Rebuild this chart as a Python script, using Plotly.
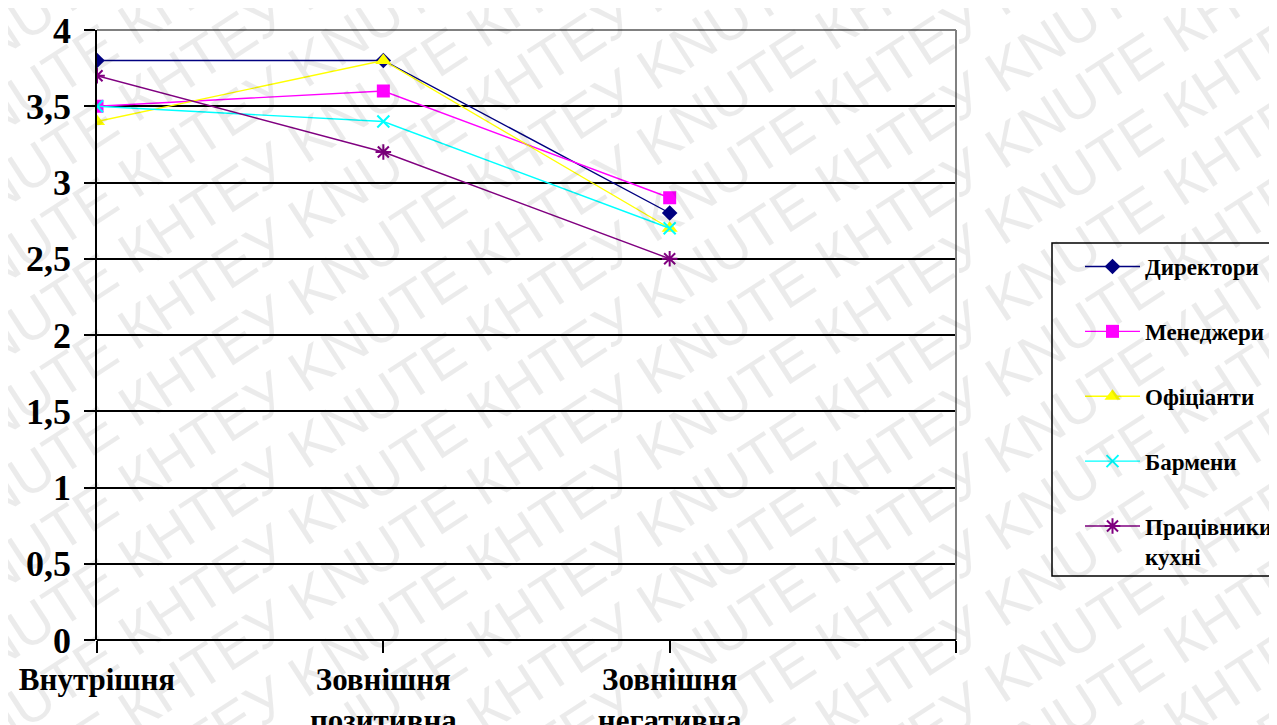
import math
import plotly.graph_objects as go

categories = ["Внутрішня", "Зовнішня<br>позитивна", "Зовнішня<br>негативна"]
series_names = ["Директори", "Менеджери", "Офіціанти", "Бармени", "Працівники<br>кухні"]
directors = [3.8, 3.8, 2.8]
managers = [3.5, 3.6, 2.9]
waiters = [3.4, 3.8, 2.7]
bartenders = [3.5, 3.4, 2.7]
kitchen = [3.7, 3.2, 2.5]
y_ticks = [0, 0.5, 1, 1.5, 2, 2.5, 3, 3.5, 4]
y_tick_labels = ["0", "0,5", "1", "1,5", "2", "2,5", "3", "3,5", "4"]
watermark_text = "КНТЕУ KNUTE"

values = [directors, managers, waiters, bartenders, kitchen]
colors = ["#000080", "#FF00FF", "#FFFF00", "#00FFFF", "#800080"]
symbols = ["diamond", "square", "triangle-up", "x-thin", "asterisk"]
sizes = [12, 13, 14, 12, 13]

# page is shown with an 8px body margin: convert page pixels -> figure pixels
OFF = 8
W, H = 1277, 725
L = 97 - OFF
T = 30 - OFF
R = W - (956 - OFF)
B = H - (640 - OFF)
pw, ph = W - L - R, H - T - B


def px_x(page_x):
    return (page_x - OFF - L) / pw


def px_y(page_y):
    return (H - B - (page_y - OFF)) / ph


x_pos = list(range(len(categories)))

fig = go.Figure()
for i, (name, vals) in enumerate(zip(series_names, values)):
    sym = symbols[i]
    line_marker = dict(width=2, color=colors[i]) if sym in ("x-thin", "asterisk") else dict(width=0)
    fig.add_trace(go.Scatter(
        x=x_pos, y=vals, name=name, mode="lines+markers",
        line=dict(color=colors[i], width=1.4),
        marker=dict(symbol=sym, size=sizes[i], color=colors[i], line=line_marker),
        legendgroup=str(i),
    ))

serif = "Liberation Serif"

# watermark: diagonal tiled text
annotations = []
long_text = " ".join([watermark_text] * 9)
ang = 33
step = 64 / math.cos(math.radians(ang))
for k in range(-10, 23):
    cy = k * step
    annotations.append(dict(
        xref="paper", yref="paper", x=px_x(640), y=px_y(cy),
        text=long_text, showarrow=False, textangle=-ang,
        font=dict(family="Liberation Sans", size=58, color="rgba(0,0,0,0.08)"),
        xanchor="center", yanchor="middle",
    ))

fig.update_layout(
    width=W, height=H,
    margin=dict(l=L, r=R, t=T, b=B, autoexpand=False),
    paper_bgcolor="white", plot_bgcolor="white",
    showlegend=True,
    legend=dict(
        x=px_x(1080), y=px_y(245), xanchor="left", yanchor="top",
        borderwidth=0, bgcolor="rgba(0,0,0,0)",
        font=dict(family=serif, size=23, color="black", weight="bold"),
        itemwidth=55, tracegroupgap=32, valign="top",
    ),
    xaxis=dict(
        range=[0, 3], tickmode="array", tickvals=[0, 1, 2, 3],
        ticktext=categories + [""],
        ticks="outside", ticklen=12, tickcolor="black", tickwidth=1.5,
        showgrid=False, zeroline=False, showline=False, automargin=False,
        tickfont=dict(family=serif, size=31, color="black", weight="bold"),
        fixedrange=True,
    ),
    yaxis=dict(
        range=[0, 4], tickmode="array", tickvals=y_ticks, ticktext=y_tick_labels,
        ticks="outside", ticklen=11, tickcolor="black", tickwidth=1.5,
        ticklabelstandoff=6,
        showgrid=True, gridcolor="black", gridwidth=1.5,
        zeroline=False, showline=True, linecolor="black", linewidth=1.5,
        automargin=False,
        tickfont=dict(family=serif, size=36, color="black", weight="bold"),
    ),
    shapes=[
        dict(type="line", xref="x domain", yref="y domain", x0=0, x1=1, y0=1, y1=1,
             line=dict(color="#808080", width=2)),
        dict(type="line", xref="x domain", yref="y domain", x0=1, x1=1, y0=0, y1=1,
             line=dict(color="#808080", width=2)),
        dict(type="line", xref="x domain", yref="y domain", x0=0, x1=1, y0=0, y1=0,
             line=dict(color="black", width=2)),
        dict(type="rect", xref="paper", yref="paper",
             x0=px_x(1052), x1=px_x(1300), y0=px_y(576), y1=px_y(243),
             line=dict(color="black", width=1.5), fillcolor="rgba(0,0,0,0)", layer="below"),
    ],
    annotations=annotations,
)

fig.write_html("out.html")
